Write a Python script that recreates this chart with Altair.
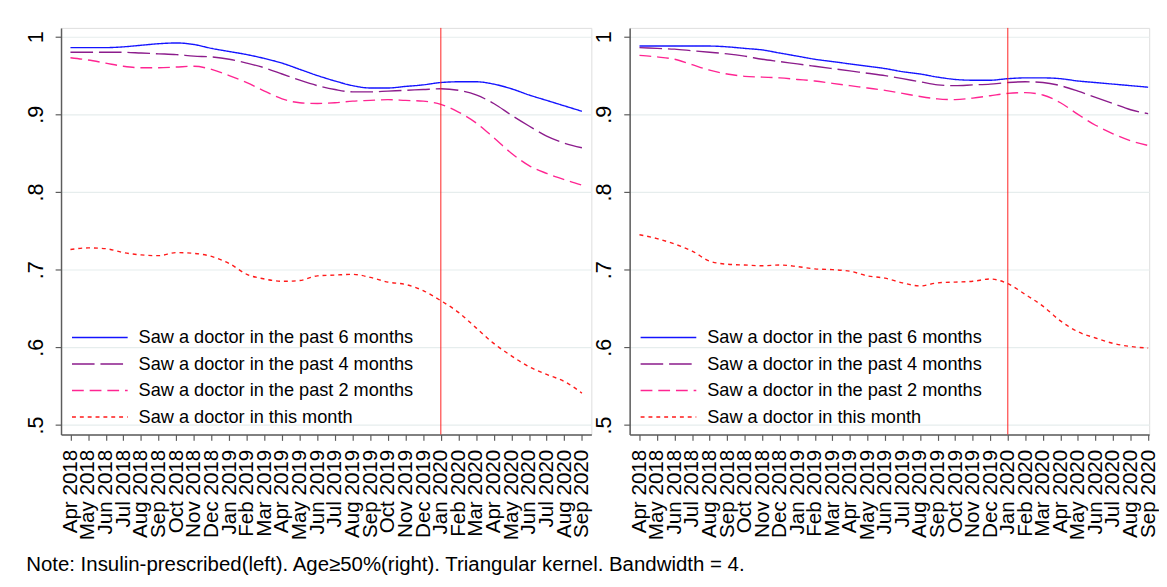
import altair as alt
import pandas as pd

months = [
    "Apr 2018", "May 2018", "Jun 2018", "Jul 2018", "Aug 2018", "Sep 2018",
    "Oct 2018", "Nov 2018", "Dec 2018", "Jan 2019", "Feb 2019", "Mar 2019",
    "Apr 2019", "May 2019", "Jun 2019", "Jul 2019", "Aug 2019", "Sep 2019",
    "Oct 2019", "Nov 2019", "Dec 2019", "Jan 2020", "Feb 2020", "Mar 2020",
    "Apr 2020", "May 2020", "Jun 2020", "Jul 2020", "Aug 2020", "Sep 2020",
]

series = [
    "Saw a doctor in the past 6 months",
    "Saw a doctor in the past 4 months",
    "Saw a doctor in the past 2 months",
    "Saw a doctor in this month",
]

# Left panel: insulin-prescribed
left_6m = [0.986, 0.986, 0.986, 0.987, 0.989, 0.991, 0.992, 0.990, 0.985, 0.981,
           0.977, 0.972, 0.966, 0.958, 0.950, 0.943, 0.937, 0.934, 0.934, 0.936,
           0.938, 0.941, 0.942, 0.942, 0.939, 0.933, 0.925, 0.918, 0.911, 0.904]
left_4m = [0.980, 0.980, 0.980, 0.980, 0.979, 0.978, 0.977, 0.975, 0.974, 0.971,
           0.966, 0.960, 0.952, 0.944, 0.937, 0.932, 0.929, 0.929, 0.930, 0.931,
           0.932, 0.933, 0.931, 0.925, 0.914, 0.899, 0.885, 0.872, 0.863, 0.857]
left_2m = [0.973, 0.970, 0.966, 0.962, 0.960, 0.960, 0.961, 0.962, 0.958, 0.950,
           0.941, 0.930, 0.920, 0.915, 0.914, 0.915, 0.917, 0.918, 0.919, 0.918,
           0.917, 0.913, 0.903, 0.889, 0.870, 0.850, 0.834, 0.824, 0.816, 0.809]
left_0m = [0.726, 0.728, 0.727, 0.722, 0.719, 0.718, 0.722, 0.721, 0.717, 0.708,
           0.694, 0.688, 0.685, 0.686, 0.692, 0.693, 0.694, 0.690, 0.684, 0.681,
           0.673, 0.660, 0.645, 0.625, 0.605, 0.589, 0.575, 0.565, 0.556, 0.541]

# Right panel: age >= 50%
right_6m = [0.988, 0.988, 0.988, 0.988, 0.988, 0.987, 0.985, 0.983, 0.979, 0.975,
            0.971, 0.968, 0.965, 0.962, 0.959, 0.955, 0.952, 0.948, 0.945, 0.944,
            0.944, 0.946, 0.947, 0.947, 0.946, 0.943, 0.941, 0.939, 0.937, 0.935]
right_4m = [0.986, 0.985, 0.984, 0.982, 0.980, 0.978, 0.975, 0.971, 0.968, 0.965,
            0.962, 0.959, 0.956, 0.953, 0.950, 0.946, 0.942, 0.938, 0.937, 0.938,
            0.939, 0.941, 0.942, 0.941, 0.937, 0.930, 0.922, 0.914, 0.906, 0.901]
right_2m = [0.976, 0.974, 0.971, 0.964, 0.957, 0.952, 0.949, 0.948, 0.947, 0.945,
            0.943, 0.940, 0.937, 0.934, 0.931, 0.927, 0.923, 0.920, 0.919, 0.921,
            0.924, 0.927, 0.928, 0.925, 0.915, 0.900, 0.886, 0.875, 0.866, 0.860]
right_0m = [0.745, 0.740, 0.733, 0.724, 0.711, 0.707, 0.706, 0.705, 0.706, 0.704,
            0.701, 0.700, 0.698, 0.692, 0.689, 0.683, 0.679, 0.683, 0.684, 0.685,
            0.688, 0.682, 0.668, 0.653, 0.634, 0.620, 0.612, 0.605, 0.601, 0.599]

y_ticks = [0.5, 0.6, 0.7, 0.8, 0.9, 1.0]
cutoff_month = ["Jan 2020"]
colors = ["#1414FF", "#8C1C8C", "#FF2592", "#FF1A1A"]
dashes = [[1, 0], [23, 6], [12, 6], [4, 4]]
note = "Note: Insulin-prescribed(left). Age\u226550%(right). Triangular kernel. Bandwidth = 4."

FONT = "Liberation Sans"


def long_df(vals_list):
    rows = []
    for s, vals in zip(series, vals_list):
        for m, v in zip(months, vals):
            rows.append({"month": m, "series": s, "value": v})
    return pd.DataFrame(rows)


def panel(vals_list, width, pad, align):
    df = long_df(vals_list)
    xscale = alt.Scale(type="point", padding=pad, align=align)
    xaxis = alt.Axis(
        labelAngle=270, labelFontSize=21, labelFont=FONT, labelColor="black",
        tickSize=6, labelPadding=9, grid=False, labelOverlap=False,
        domainColor="#5c5c5c", tickColor="#5c5c5c", domainWidth=1.5, tickWidth=1.2,
        title=None,
    )
    yaxis = alt.Axis(
        values=y_ticks,
        labelExpr="datum.value == 1 ? '1' : replace(format(datum.value, '.1f'), '0.', '.')",
        labelAngle=270, labelFontSize=22, labelFont=FONT, labelColor="black",
        tickSize=6, labelPadding=8, grid=True, gridColor="#E6EDED", gridWidth=1.2,
        domainColor="#5c5c5c", tickColor="#5c5c5c", domainWidth=1.5, tickWidth=1.2,
        minExtent=33, maxExtent=33, title=None,
    )
    legend = alt.Legend(
        orient="none", legendX=10, legendY=303, title=None,
        symbolType="stroke", symbolSize=3215, symbolStrokeWidth=1.4,
        labelFontSize=18.5, labelFont=FONT, labelColor="black", labelLimit=600,
        labelOffset=10, clipHeight=24.4, rowPadding=2, padding=0,
    )
    lines = alt.Chart(df).mark_line(strokeWidth=1.4, interpolate="monotone").encode(
        x=alt.X("month:O", sort=months, scale=xscale, axis=xaxis),
        y=alt.Y("value:Q", scale=alt.Scale(domain=[0.4877, 1.0114], nice=False, zero=False), axis=yaxis),
        color=alt.Color("series:N", sort=series,
                        scale=alt.Scale(domain=series, range=colors), legend=legend),
        strokeDash=alt.StrokeDash("series:N", sort=series,
                                  scale=alt.Scale(domain=series, range=dashes), legend=legend),
    )
    rule = alt.Chart(pd.DataFrame({"month": cutoff_month})).mark_rule(
        color="#FF2020", strokeWidth=1
    ).encode(x=alt.X("month:O", sort=months))
    return alt.layer(lines, rule).properties(width=width, height=414)


left = panel([left_6m, left_4m, left_2m, left_0m], 540, 0.535, 0.5)
right = panel([right_6m, right_4m, right_2m, right_0m], 529, 0.31, 0.903)

chart = alt.hconcat(left, right, spacing=0).resolve_scale(
    color="independent", strokeDash="independent"
).resolve_legend(
    color="independent", strokeDash="independent"
).properties(
    padding={"left": 16, "top": 14, "right": 0, "bottom": 4},
    title=alt.TitleParams(
        text=note, orient="bottom", anchor="start", frame="bounds",
        fontSize=20.8, fontWeight="normal", font=FONT, color="black", offset=15, dx=2,
    ),
).configure_view(stroke=None).configure(background="white")

chart.save("out.html", embed_options={"renderer": "svg", "actions": False})
